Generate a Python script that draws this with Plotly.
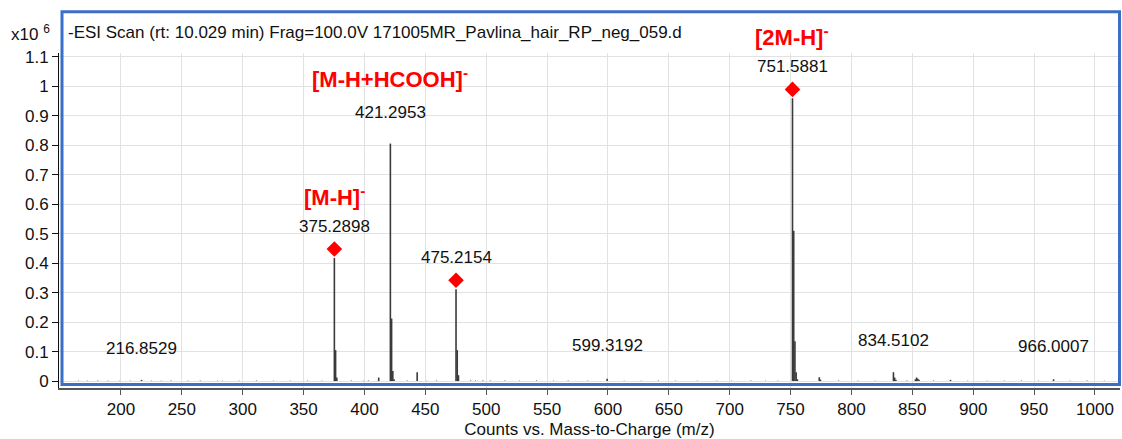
import plotly.graph_objects as go

# Centroided peaks of the negative-mode ESI scan (m/z, counts x10^6)
peak_mz = [
    216.8529, 375.2898, 376.2930, 377.2960, 411.7, 421.2953, 422.2990,
    423.3020, 424.3050, 443.3, 475.2154, 476.2190, 477.2220, 599.3192,
    751.5881, 752.5910, 753.5950, 754.5980, 755.6010, 773.57, 774.57,
    834.5102, 835.5130, 836.5160, 852.5, 853.5, 854.5, 855.5, 881.4, 966.0007,
]
peak_int = [
    0.004, 0.418, 0.105, 0.012, 0.012, 0.806, 0.212,
    0.034, 0.006, 0.030, 0.312, 0.105, 0.020, 0.008,
    0.960, 0.510, 0.135, 0.030, 0.006, 0.013, 0.005,
    0.030, 0.012, 0.004, 0.006, 0.012, 0.008, 0.004, 0.004, 0.006,
]

# Low-level background ions along the baseline
noise_mz = [
    165.1, 172.4, 181.0, 189.2, 199.0, 207.9, 225.1, 233.0, 241.2, 255.1,
    265.1, 279.2, 283.3, 297.1, 311.2, 325.2, 339.2, 353.2, 365.1, 389.2,
    399.3, 403.2, 435.1, 451.2, 459.3, 487.3, 491.2, 497.3, 503.3, 515.3,
    527.3, 541.3, 555.3, 567.3, 583.3, 613.3, 627.3, 641.4, 655.4, 673.4,
    689.4, 701.4, 717.4, 729.4, 739.5, 789.5, 805.5, 819.5, 845.5, 867.5,
    895.5, 911.5, 925.6, 939.6, 953.6, 979.6, 993.6, 1007.7,
]
noise_int = [
    0.002, 0.002, 0.003, 0.002, 0.002, 0.002, 0.002, 0.002, 0.003, 0.002,
    0.003, 0.002, 0.002, 0.002, 0.003, 0.002, 0.002, 0.002, 0.002, 0.003,
    0.002, 0.003, 0.003, 0.002, 0.003, 0.004, 0.003, 0.004, 0.003, 0.003,
    0.002, 0.003, 0.002, 0.003, 0.002, 0.002, 0.002, 0.003, 0.002, 0.002,
    0.002, 0.002, 0.003, 0.002, 0.002, 0.003, 0.002, 0.002, 0.003, 0.003,
    0.002, 0.002, 0.002, 0.003, 0.002, 0.002, 0.003, 0.002,
]

# Labelled peaks and where their m/z text sits
label_mz = [216.8529, 375.2898, 421.2953, 475.2154, 599.3192, 751.5881, 834.5102, 966.0007]
label_y = [0.111, 0.523, 0.911, 0.418, 0.121, 1.066, 0.138, 0.118]

# Marked ions (red diamonds) with their adduct assignments
ion_mz = [375.2898, 421.2953, 751.5881]
ion_names = ["[M-H]<sup>-</sup>", "[M-H+HCOOH]<sup>-</sup>", "[2M-H]<sup>-</sup>"]
ion_name_y = [0.628, 1.029, 1.171]
diamond_mz = [375.2898, 475.2154, 751.5881]

x_ticks = list(range(200, 1001, 50))
y_ticks = [round(0.1 * i, 1) for i in range(12)]

TITLE = "-ESI Scan (rt: 10.029 min) Frag=100.0V 171005MR_Pavlina_hair_RP_neg_059.d"
FONT = "Liberation Sans, Arial, sans-serif"

W, H = 1122, 439
L, R, T, B = 59, 2, 53, 49
pw, ph = W - L - R, H - T - B
X_RANGE = [149.1, 1020.6]
Y_RANGE = [-0.0236, 1.1135]


def paper_x(px):
    return (px - L) / pw


def paper_y(py):
    return (H - B - py) / ph


def data_to_paper_y(v):
    return (v - Y_RANGE[0]) / (Y_RANGE[1] - Y_RANGE[0])


def sticks(mz, inten):
    xs, ys = [], []
    for m, h in zip(mz, inten):
        xs += [m, m, None]
        ys += [0, h, None]
    return xs, ys


fig = go.Figure()

nx, ny = sticks(noise_mz, noise_int)
fig.add_trace(go.Scatter(x=nx, y=ny, mode="lines",
                         line=dict(color="#888888", width=1),
                         hoverinfo="skip", showlegend=False))

px_, py_ = sticks(peak_mz, peak_int)
fig.add_trace(go.Scatter(x=px_, y=py_, mode="lines",
                         line=dict(color="#3a3a3a", width=1.6),
                         hoverinfo="skip", showlegend=False))

# Diamonds sit just above the apex of the flagged peaks
lookup = dict(zip(peak_mz, peak_int))
fig.add_trace(go.Scatter(
    x=diamond_mz, y=[lookup[m] + 0.03 for m in diamond_mz], mode="markers",
    marker=dict(symbol="diamond", size=12, color="#ff0000", line=dict(width=0)),
    hoverinfo="skip", showlegend=False, cliponaxis=False))

for m, y in zip(label_mz, label_y):
    fig.add_annotation(x=m, y=y, xref="x", yref="y", text=f"{m:.4f}",
                       showarrow=False, xanchor="center", yanchor="middle",
                       font=dict(size=17, color="#111111", family=FONT))

# Adduct names may sit above the top of the axis, so they are placed in paper units
for m, name, y in zip(ion_mz, ion_names, ion_name_y):
    fig.add_annotation(x=m, y=data_to_paper_y(y), xref="x", yref="paper",
                       text=f"<b>{name}</b>", showarrow=False,
                       xanchor="center", yanchor="middle",
                       font=dict(size=22, color="#ff0000", family=FONT))

# Plot frame
fig.add_shape(type="rect", xref="paper", yref="paper",
              x0=paper_x(62), x1=paper_x(1119.5), y0=paper_y(386.5), y1=paper_y(11.5),
              line=dict(color="#3a6fc8", width=3), layer="above")

fig.add_annotation(x=paper_x(66), y=paper_y(32), xref="paper", yref="paper", text=TITLE,
                   showarrow=False, xanchor="left", yanchor="middle",
                   font=dict(size=17, color="#111111", family=FONT))
fig.add_annotation(x=paper_x(9), y=paper_y(33), xref="paper", yref="paper",
                   text="x10 <sup>6</sup>", showarrow=False, xanchor="left", yanchor="middle",
                   font=dict(size=17, color="#111111", family=FONT))

fig.update_layout(
    width=W, height=H,
    margin=dict(l=L, r=R, t=T, b=B),
    plot_bgcolor="white", paper_bgcolor="white",
    font=dict(family=FONT, size=17, color="#111111"),
    xaxis=dict(range=X_RANGE, tickmode="array", tickvals=x_ticks,
               showgrid=True, gridcolor="#e2e2e2", gridwidth=1,
               showline=True, linecolor="#555555", linewidth=1.5,
               ticks="outside", ticklen=5, tickcolor="#555555",
               zeroline=False, tickfont=dict(size=17),
               title=dict(text="Counts vs. Mass-to-Charge (m/z)",
                          font=dict(size=17), standoff=6)),
    yaxis=dict(range=Y_RANGE, tickmode="array", tickvals=y_ticks,
               showgrid=True, gridcolor="#e2e2e2", gridwidth=1,
               showline=True, linecolor="#111111", linewidth=1,
               ticks="outside", ticklen=6, tickcolor="#111111",
               zeroline=False, tickfont=dict(size=17)),
)

fig.write_html("out.html")
